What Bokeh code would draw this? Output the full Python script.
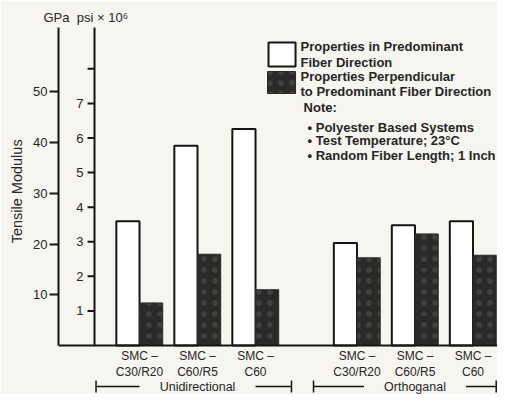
from bokeh.plotting import figure
from bokeh.models import Range1d, FixedTicker, Span
from bokeh.core.properties import value
from bokeh.embed import file_html
from bokeh.resources import INLINE

# ---------------- data ----------------
materials = ["SMC –\nC30/R20", "SMC –\nC60/R5", "SMC –\nC60"]
groups = ["Unidirectional", "Orthoganal"]
in_fiber_dir = [24.5, 39.4, 42.7, 20.2, 23.7, 24.5]      # GPa
perp_fiber_dir = [8.4, 18.0, 11.0, 17.3, 22.0, 17.8]     # GPa
gpa_ticks = [10, 20, 30, 40, 50]
psi_ticks = [1, 2, 3, 4, 5, 6, 7, 8]
psi_labels = ["1", "2", "3", "4", "5", "6", "7", ""]
units_header = "GPa\u00a0\u00a0psi × 10⁶"
y_title = "Tensile Modulus"
legend_labels = ["Properties in Predominant", "Fiber Direction",
                 "Properties Perpendicular", "to Predominant Fiber Direction"]
note_title = "Note:"
notes = ["Polyester Based Systems", "Test Temperature; 23°C", "Random Fiber Length; 1 Inch"]

# ---------------- style / layout ----------------
BG = "#f6f5f0"
INK = "#151515"
TXT = "#262626"
DARK = "#2b2a29"
FONT = "Liberation Sans"
GAP = 0.75           # extra space between the two groups (category units)
BAR_W = 0.40
W, H = 497, 394

n_per = len(materials)
group_idx = [k // n_per for k in range(len(in_fiber_dir))]
pos = [k + GAP * g for k, g in enumerate(group_idx)]
cat_text = materials * len(groups)

p = figure(width=W, height=H, output_backend="svg", toolbar_location=None,
           x_range=Range1d(-1.397, 6.172), y_range=Range1d(-9.665, 63.31),
           min_border_left=58, min_border_right=0, min_border_top=24, min_border_bottom=0,
           x_axis_type=None)
p.extra_y_ranges = {"psi": Range1d(-1.417, 9.283)}
p.background_fill_color = BG
p.border_fill_color = BG
p.outline_line_color = None
p.grid.visible = False

# units header as the title
p.title.text = units_header
p.title.align = "left"
p.title.offset = -15
p.title.standoff = 0
p.title.text_font = FONT
p.title.text_font_size = "13px"
p.title.text_font_style = "normal"
p.title.text_color = TXT

# GPa axis (real axis)
ax = p.yaxis[0]
ax.ticker = FixedTicker(ticks=gpa_ticks)
ax.bounds = (0, 62.75)
ax.axis_line_width = 2
ax.axis_line_color = INK
ax.major_tick_line_width = 2
ax.major_tick_line_color = INK
ax.major_tick_out = 9
ax.major_tick_in = 0
ax.minor_tick_out = 0
ax.minor_tick_in = 0
ax.major_label_standoff = 2
ax.major_label_text_font = FONT
ax.major_label_text_font_size = "13px"
ax.major_label_text_color = TXT
# leading no-break spaces nudge the centred label up to sit beside the 20-40 ticks
ax.axis_label = "\u00a0" * 9 + y_title
ax.axis_label_standoff = 5
ax.axis_label_text_font = FONT
ax.axis_label_text_font_style = "normal"
ax.axis_label_text_font_size = "14.5px"
ax.axis_label_text_color = TXT

# psi x 10^6 axis drawn inside the plot on its own range
PSI_X = -0.776
p.segment(x0=[PSI_X], y0=[0], x1=[PSI_X], y1=[9.195], y_range_name="psi",
          line_color=INK, line_width=2)
p.segment(x0=[PSI_X - 0.12] * len(psi_ticks), y0=psi_ticks,
          x1=[PSI_X] * len(psi_ticks), y1=psi_ticks, y_range_name="psi",
          line_color=INK, line_width=2)
p.text(x=[PSI_X] * len(psi_ticks), y=psi_ticks, text=psi_labels, y_range_name="psi",
       x_offset=-11, text_align="right", text_baseline="middle",
       text_font=value(FONT), text_font_size="13px", text_color=TXT)

# bars
x_in = [v - BAR_W / 2 for v in pos]
x_perp = [v + BAR_W / 2 for v in pos]
p.vbar(x=x_in, top=in_fiber_dir, bottom=0, width=BAR_W,
       fill_color="white", line_color=INK, line_width=2)
p.vbar(x=x_perp, top=perp_fiber_dir, bottom=0, width=BAR_W,
       fill_color=DARK, line_color=DARK, line_width=1,
       hatch_pattern="dot", hatch_color="#cccccc", hatch_alpha=0.14, hatch_scale=11, hatch_weight=1)

# baseline
p.add_layout(Span(location=0, dimension="width", line_color=INK, line_width=2))

# category labels
p.text(x=pos, y=[0] * len(pos), text=cat_text, y_offset=4, text_align="center",
       text_baseline="top", text_line_height=1.1,
       text_font=value(FONT), text_font_size="12px", text_color=TXT)

# group brackets
BR_Y = -8.09
BR_T = 1.18
half_gap = [1.0, 0.88]
for g, name in enumerate(groups):
    gp = [pos[k] for k in range(len(pos)) if group_idx[k] == g]
    c = sum(gp) / len(gp)
    x0 = gp[0] - 0.75
    x1 = min(gp[-1] + 0.62, 6.15)
    p.segment(x0=[x0, c + half_gap[g]], y0=[BR_Y, BR_Y], x1=[c - half_gap[g], x1], y1=[BR_Y, BR_Y],
              line_color=INK, line_width=1.5)
    p.segment(x0=[x0, x1], y0=[BR_Y - BR_T, BR_Y - BR_T], x1=[x0, x1], y1=[BR_Y + BR_T, BR_Y + BR_T],
              line_color=INK, line_width=1.5)
    p.text(x=[c], y=[BR_Y], text=[name], text_align="center", text_baseline="middle",
           text_font=value(FONT), text_font_size="12.5px", text_color=TXT)

# legend (drawn)
p.quad(left=[2.224], right=[2.69], top=[59.76], bottom=[55.03],
       fill_color="white", line_color=INK, line_width=2)
p.quad(left=[2.207], right=[2.69], top=[54.04], bottom=[49.70],
       fill_color=DARK, line_color=DARK, line_width=1,
       hatch_pattern="dot", hatch_color="#cccccc", hatch_alpha=0.14, hatch_scale=11, hatch_weight=1)
LX = 2.776
p.text(x=[LX] * 4, y=[59.03, 55.82, 53.12, 50.16], text=legend_labels, text_baseline="middle",
       text_font=value(FONT), text_font_size="13px", text_font_style="bold", text_color=TXT)
p.text(x=[2.828], y=[47.0], text=[note_title], text_baseline="middle",
       text_font=value(FONT), text_font_size="13px", text_font_style="bold", text_color=TXT)
p.text(x=[2.897] * 3, y=[43.06, 40.43, 37.48], text=["• " + s for s in notes], text_baseline="middle",
       text_font=value(FONT), text_font_size="13px", text_font_style="bold", text_color=TXT)

open("out.html", "w").write(file_html(p, INLINE))
